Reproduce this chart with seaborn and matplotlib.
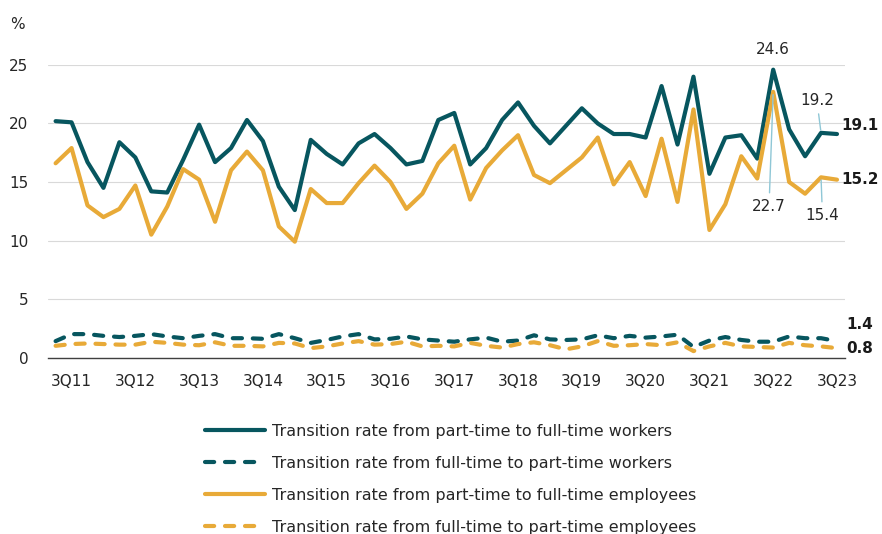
import pandas as pd
import numpy as np
import matplotlib
matplotlib.use("Agg")
import matplotlib.pyplot as plt
import seaborn as sns

# quarters 2Q11 .. 3Q23
quarters = [f"{q}Q{y:02d}" for y in range(11, 24) for q in range(1, 5)]
quarters = quarters[quarters.index("2Q11"):quarters.index("3Q23") + 1]

pt_to_ft_workers = [20.2, 20.1, 16.7, 14.5, 18.4, 17.1, 14.2, 14.1, 16.9, 19.9,
                    16.7, 17.9, 20.3, 18.5, 14.6, 12.6, 18.6, 17.4, 16.5, 18.3,
                    19.1, 17.9, 16.5, 16.8, 20.3, 20.9, 16.5, 17.9, 20.3, 21.8,
                    19.8, 18.3, 19.8, 21.3, 20.0, 19.1, 19.1, 18.8, 23.2, 18.2,
                    24.0, 15.7, 18.8, 19.0, 17.0, 24.6, 19.5, 17.2, 19.2, 19.1]
ft_to_pt_workers = [1.4, 2.0, 2.0, 1.85, 1.75, 1.85, 2.0, 1.8, 1.65, 1.85,
                    2.0, 1.65, 1.65, 1.6, 2.0, 1.65, 1.25, 1.5, 1.8, 2.0,
                    1.55, 1.6, 1.8, 1.55, 1.45, 1.35, 1.55, 1.7, 1.35, 1.45,
                    1.9, 1.55, 1.5, 1.55, 1.9, 1.65, 1.85, 1.7, 1.8, 1.95,
                    0.9, 1.45, 1.75, 1.5, 1.35, 1.35, 1.8, 1.65, 1.65, 1.4]
pt_to_ft_employees = [16.6, 17.9, 13.0, 12.0, 12.7, 14.7, 10.5, 12.9, 16.1, 15.2,
                      11.6, 16.0, 17.6, 16.0, 11.2, 9.9, 14.4, 13.2, 13.2, 14.9,
                      16.4, 15.0, 12.7, 14.0, 16.6, 18.1, 13.5, 16.2, 17.7, 19.0,
                      15.6, 14.9, 16.0, 17.1, 18.8, 14.8, 16.7, 13.8, 18.7, 13.3,
                      21.2, 10.9, 13.1, 17.2, 15.3, 22.7, 15.0, 14.0, 15.4, 15.2]
ft_to_pt_employees = [1.0, 1.15, 1.2, 1.15, 1.1, 1.1, 1.35, 1.25, 1.1, 1.05,
                      1.3, 1.0, 1.0, 0.95, 1.25, 1.2, 0.8, 0.95, 1.2, 1.4,
                      1.1, 1.15, 1.35, 0.95, 1.0, 0.95, 1.25, 1.0, 0.85, 1.15,
                      1.3, 1.05, 0.7, 0.95, 1.4, 1.0, 1.05, 1.15, 1.05, 1.3,
                      0.55, 0.95, 1.25, 0.95, 0.9, 0.85, 1.25, 1.05, 0.95, 0.8]

series_names = ["Transition rate from part-time to full-time workers",
                "Transition rate from full-time to part-time workers",
                "Transition rate from part-time to full-time employees",
                "Transition rate from full-time to part-time employees"]

teal = "#07565F"
gold = "#E8AA38"
colors = [teal, teal, gold, gold]
dashed = [False, True, False, True]

df = pd.DataFrame({"quarter": quarters,
                   series_names[0]: pt_to_ft_workers,
                   series_names[1]: ft_to_pt_workers,
                   series_names[2]: pt_to_ft_employees,
                   series_names[3]: ft_to_pt_employees})
df["x"] = np.arange(len(df))

sns.set_style("white")
plt.rcParams["font.family"] = ["DejaVu Sans"]
plt.rcParams["text.color"] = "#262626"

fs = 11

fig = plt.figure(figsize=(8.82, 5.34), dpi=100)
ax = fig.add_axes([0.054, 0.3305, 0.904, 0.5478])

for name, c, d in zip(series_names, colors, dashed):
    sns.lineplot(data=df, x="x", y=name, color=c, linewidth=3.0, label=name, ax=ax)
    ln = ax.lines[-1]
    ln.set_solid_capstyle("round")
    ln.set_solid_joinstyle("round")
    if d:
        ln.set_dashes([2.2, 2.6])
        ln.set_dash_capstyle("round")

ax.set_xlim(-0.5, len(df) - 0.5)
ax.set_ylim(0, 25)
ax.set_yticks([0, 5, 10, 15, 20, 25])
ax.yaxis.grid(True, color="#D9D9D9", linewidth=0.8)
ax.set_axisbelow(True)

lab_idx = [i for i, q in enumerate(quarters) if q.startswith("3Q")]
ax.set_xticks(lab_idx)
ax.set_xticklabels([quarters[i] for i in lab_idx])
ax.set_xticks(np.arange(-0.5, len(df)), minor=True)
ax.tick_params(axis="x", which="major", length=0, pad=12, labelsize=fs, labelcolor="#262626")
ax.tick_params(axis="x", which="minor", length=4, width=0.9, color="#404040", direction="out")
ax.tick_params(axis="y", length=0, pad=14, labelsize=fs, labelcolor="#262626")
ax.set_xlabel("")
ax.set_ylabel("")

for s in ["top", "right", "left"]:
    ax.spines[s].set_visible(False)
ax.spines["bottom"].set_color("#404040")
ax.spines["bottom"].set_linewidth(1.0)

# annotations
last = len(df) - 1
peak = quarters.index("3Q22")
prev = last - 1
lead = dict(arrowstyle="-", color="#8FC7D6", lw=1.0, shrinkA=2, shrinkB=2)
ax.annotate(f"{pt_to_ft_workers[peak]:.1f}", (peak, pt_to_ft_workers[peak]),
            xytext=(0, 9), textcoords="offset points", ha="center", va="bottom", fontsize=fs)
ax.annotate(f"{pt_to_ft_employees[peak]:.1f}", (peak, pt_to_ft_employees[peak]),
            xytext=(-3, -77), textcoords="offset points", ha="center", va="top", fontsize=fs,
            arrowprops=lead)
ax.annotate(f"{pt_to_ft_workers[prev]:.1f}", (prev, pt_to_ft_workers[prev]),
            xytext=(-3, 18), textcoords="offset points", ha="center", va="bottom", fontsize=fs,
            arrowprops=lead)
ax.annotate(f"{pt_to_ft_employees[prev]:.1f}", (prev, pt_to_ft_employees[prev]),
            xytext=(1, -22), textcoords="offset points", ha="center", va="top", fontsize=fs,
            arrowprops=lead)

end_labels = [(pt_to_ft_workers[last], 3, 6), (pt_to_ft_employees[last], 3, 0),
              (ft_to_pt_workers[last], 7, 12), (ft_to_pt_employees[last], 7, 0)]
for val, dx, dy in end_labels:
    ax.annotate(f"{val:.1f}", (last, val), xytext=(dx, dy), textcoords="offset points",
                ha="left", va="center", fontsize=fs, fontweight="bold", color="#1A1A1A",
                annotation_clip=False)

fig.text(0.011, 0.955, "%", fontsize=fs, ha="left", va="center")

handles, labels = ax.get_legend_handles_labels()
ax.legend(handles, labels, loc="upper left", bbox_to_anchor=(0.232, 0.2066),
          bbox_transform=fig.transFigure, frameon=False, fontsize=11.5,
          handlelength=3.8, handletextpad=0.4, labelspacing=1.07,
          borderpad=0, borderaxespad=0)

fig.savefig("out.png", dpi=100)
